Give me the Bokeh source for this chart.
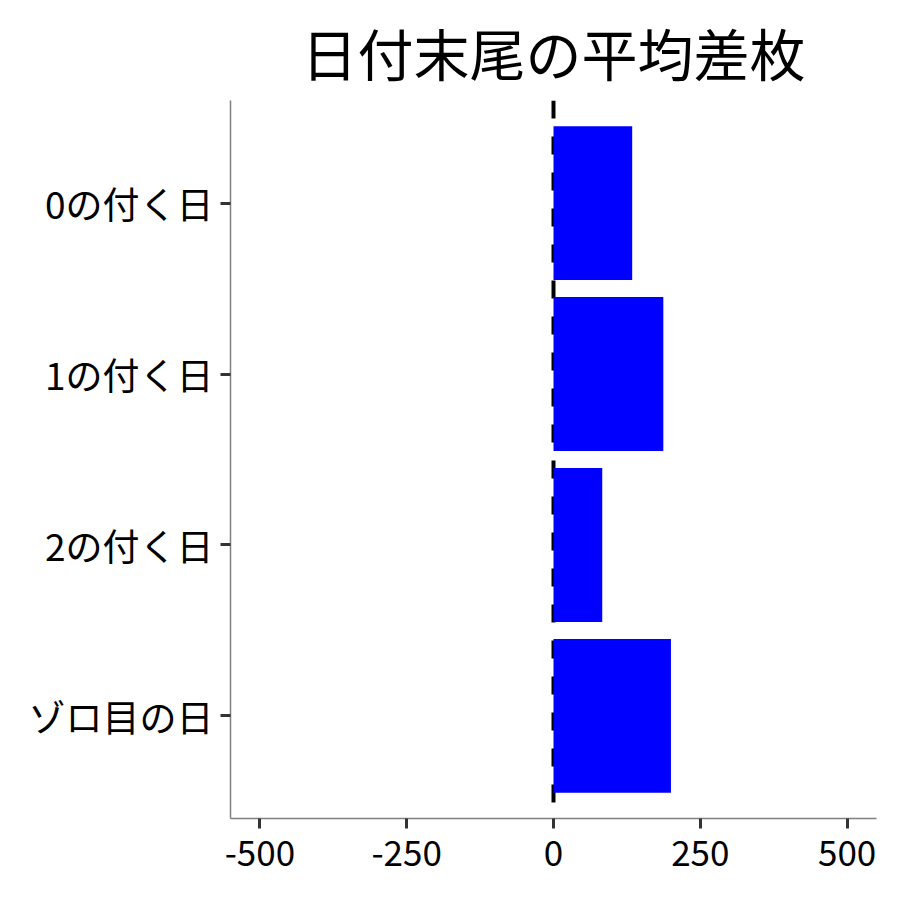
from bokeh.plotting import figure
from bokeh.models import FactorRange, Range1d, Span, FixedTicker, ColumnDataSource
from bokeh.embed import file_html
from bokeh.resources import INLINE

categories = ["0の付く日", "1の付く日", "2の付く日", "ゾロ目の日"]
values = [134, 187, 83, 200]
x_ticks = [-500, -250, 0, 250, 500]
title_text = "日付末尾の平均差枚"

FONT = "Noto Sans CJK JP"

factors = list(reversed(categories))
src = ColumnDataSource(dict(cat=categories, val=values))

p = figure(
    width=884, height=884,
    y_range=FactorRange(factors=factors, range_padding=0.1, range_padding_units="absolute"),
    x_range=Range1d(-550, 550),
    output_backend="svg", toolbar_location=None,
    min_border_left=230, min_border_right=8, min_border_top=100, min_border_bottom=66,
)

p.title.text = title_text
p.title.text_font = FONT
p.title.text_font_size = "56px"
p.title.text_font_style = "normal"
p.title.align = "center"
p.title.vertical_align = "top"
p.title.text_color = "black"
p.title.standoff = 14

span = Span(location=0, dimension="height", line_color="black", line_width=4, line_dash="18 18")
p.add_layout(span)

p.hbar(y="cat", right="val", left=0, height=0.9, source=src, fill_color="#0000ff", line_color=None, level="overlay")

p.xgrid.visible = False
p.ygrid.visible = False
p.outline_line_color = None
p.background_fill_color = "white"

p.xaxis.ticker = FixedTicker(ticks=x_ticks)
p.xaxis.major_label_overrides = {t: str(t) for t in x_ticks}
for ax in (p.xaxis[0], p.yaxis[0]):
    ax.axis_line_color = "#808080"
    ax.axis_line_width = 1.5
    ax.major_tick_line_color = "#333333"
    ax.major_tick_line_width = 3
    ax.major_tick_out = 10
    ax.major_tick_in = 0
    ax.minor_tick_line_color = None
    ax.major_label_text_color = "black"
    ax.major_label_text_font = FONT

p.xaxis.major_label_text_font_size = "35px"
p.xaxis.major_label_standoff = 11
p.yaxis.major_label_text_font_size = "37px"
p.yaxis.major_label_standoff = 7

open("out.html", "w").write(file_html(p, INLINE))
